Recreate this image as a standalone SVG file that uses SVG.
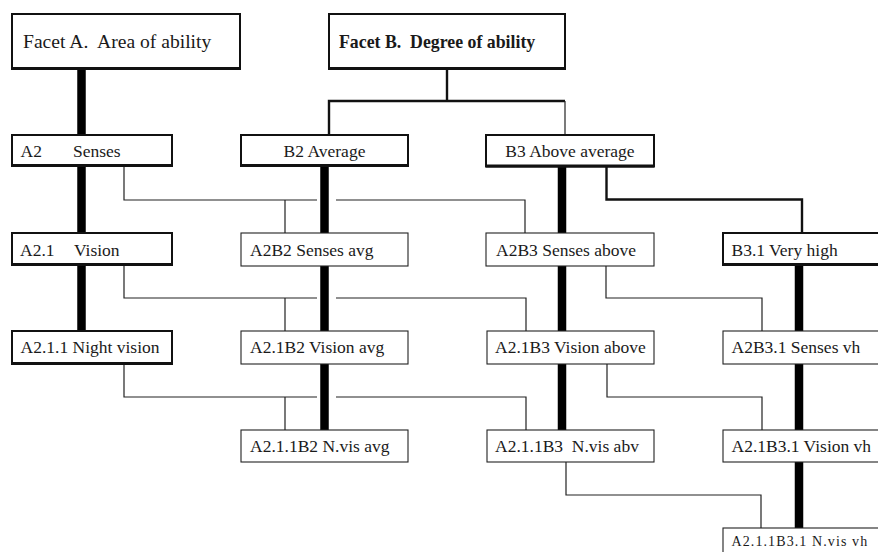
<svg xmlns="http://www.w3.org/2000/svg" width="878" height="552" viewBox="0 0 878 552">
<style>
  .bold { fill: #fff; stroke: #111; stroke-width: 2; }
  .thin { fill: #fff; stroke: #222; stroke-width: 1.1; }
  .shadow { stroke: #111; stroke-width: 3; fill: none; }
  .t { font-family: "Liberation Serif", "Times New Roman", serif; font-size: 17.5px; fill: #1a1a1a; white-space: pre; }
  .big { font-size: 19.6px; }
  .bigb { font-size: 17.8px; font-weight: bold; }
  .small { font-size: 14px; letter-spacing: 1.1px; }
  .trunk { stroke: #000; stroke-width: 8.5; fill: none; }
  .link { stroke: #222; stroke-width: 1.2; fill: none; }
  .link2 { stroke: #111; stroke-width: 2.4; fill: none; }
</style>
<rect width="878" height="552" fill="#fff"/>

<g id="connectors">
  <path class="link2" d="M447,69 V101"/>
  <path class="link2" d="M329,136 V101 H565"/>
  <path class="link" d="M565,101 V135"/>
  <path class="link2" d="M606.5,167 V199.5 H802 V233"/>
  <path class="trunk" d="M81.5,69 V135 M81.5,166 V233 M81.5,265 V331"/>
  <path class="trunk" d="M324.5,166 V233 M324.5,266 V331 M324.5,364 V430"/>
  <path class="trunk" d="M562,167 V233 M562,266 V331 M562,364 V430"/>
  <path class="trunk" d="M799,265 V331 M799,364 V430 M799,462 V528"/>
  <path class="link" d="M124,166 V200 H317 M336,200 H525 V233 M285,200 V233"/>
  <path class="link" d="M124,265 V298 H317 M336,298 H526 V331 M285,298 V331"/>
  <path class="link" d="M124,364 V397 H317 M336,397 H526 V430 M285,397 V430"/>
  <path class="link" d="M606,266 V298 H762 V331"/>
  <path class="link" d="M607,364 V397 H762 V430"/>
  <path class="link" d="M566,462 V495 H761 V528"/>
</g>

<g id="facetA">
  <rect class="bold" x="12" y="14" width="228" height="55"/>
  <path class="shadow" d="M12,68.5 H240"/>
  <text class="t big" x="23" y="48">Facet A.  Area of ability</text>
</g>
<g id="facetB">
  <rect class="bold" x="329" y="14" width="236" height="55"/>
  <path class="shadow" d="M329,68.5 H565"/>
  <text class="t bigb" x="339" y="48">Facet B.  Degree of ability</text>
</g>

<g id="A2">
  <rect class="bold" x="12" y="135" width="160" height="31"/>
  <path class="shadow" d="M12,165.5 H172"/>
  <text class="t" y="157"><tspan x="20.5">A2</tspan><tspan x="73">Senses</tspan></text>
</g>
<g id="B2">
  <rect class="bold" x="241" y="135" width="167" height="31"/>
  <path class="shadow" d="M241,165.5 H408"/>
  <text class="t" x="324.5" y="157" text-anchor="middle">B2 Average</text>
</g>
<g id="B3">
  <rect class="bold" x="486" y="135" width="168" height="31.5"/>
  <path class="shadow" d="M486,166 H654"/>
  <text class="t" x="570" y="157" text-anchor="middle">B3 Above average</text>
</g>

<g id="A2.1">
  <rect class="bold" x="12" y="233" width="160" height="32"/>
  <path class="shadow" d="M12,264.5 H172"/>
  <text class="t" y="256"><tspan x="20">A2.1</tspan><tspan x="74">Vision</tspan></text>
</g>
<g id="A2B2">
  <rect class="thin" x="241" y="233" width="167" height="33"/>
  <text class="t" x="250" y="256">A2B2 Senses avg</text>
</g>
<g id="A2B3">
  <rect class="thin" x="486" y="233" width="168" height="33"/>
  <text class="t" x="496" y="256">A2B3 Senses above</text>
</g>
<g id="B3.1">
  <rect class="bold" x="723" y="233" width="170" height="32"/>
  <path class="shadow" d="M723,264.5 H893"/>
  <text class="t" x="731.5" y="256">B3.1 Very high</text>
</g>

<g id="A2.1.1">
  <rect class="bold" x="12" y="331" width="160" height="33"/>
  <path class="shadow" d="M12,363.5 H172"/>
  <text class="t" x="20.5" y="353">A2.1.1 Night vision</text>
</g>
<g id="A2.1B2">
  <rect class="thin" x="241" y="331" width="167" height="33"/>
  <text class="t" x="250" y="353">A2.1B2 Vision avg</text>
</g>
<g id="A2.1B3">
  <rect class="thin" x="487" y="331" width="167" height="33"/>
  <text class="t" x="495" y="353">A2.1B3 Vision above</text>
</g>
<g id="A2B3.1">
  <rect class="thin" x="723" y="331" width="170" height="33"/>
  <text class="t" x="731.5" y="353">A2B3.1 Senses vh</text>
</g>

<g id="A2.1.1B2">
  <rect class="thin" x="241" y="430" width="167" height="32"/>
  <text class="t" x="250" y="451.5">A2.1.1B2 N.vis avg</text>
</g>
<g id="A2.1.1B3">
  <rect class="thin" x="487" y="430" width="167" height="32"/>
  <text class="t" x="495" y="451.5">A2.1.1B3  N.vis abv</text>
</g>
<g id="A2.1B3.1">
  <rect class="thin" x="723" y="430" width="170" height="32"/>
  <text class="t" x="731.5" y="451.5">A2.1B3.1 Vision vh</text>
</g>

<g id="A2.1.1B3.1">
  <rect class="thin" x="723" y="528" width="170" height="40"/>
  <text class="t small" x="731.5" y="546">A2.1.1B3.1 N.vis vh</text>
</g>
</svg>
